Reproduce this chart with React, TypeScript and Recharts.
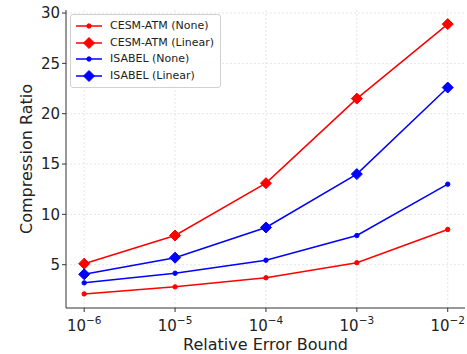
import { LineChart, Line, XAxis, YAxis, CartesianGrid } from 'recharts'

const errorBounds = [1e-6, 1e-5, 1e-4, 1e-3, 1e-2]
const cesmNone = [2.1, 2.8, 3.7, 5.2, 8.5]
const cesmLinear = [5.1, 7.9, 13.1, 21.5, 28.9]
const isabelNone = [3.2, 4.15, 5.45, 7.9, 13.0]
const isabelLinear = [4.05, 5.7, 8.7, 14.0, 22.6]
const yTicks = [5, 10, 15, 20, 25, 30]
const xTicks = [1e-6, 1e-5, 1e-4, 1e-3, 1e-2]

const seriesInfo = [
    { key: 'cesmNone', name: 'CESM-ATM (None)', color: '#ff0000', marker: 'dot' },
    { key: 'cesmLinear', name: 'CESM-ATM (Linear)', color: '#ff0000', marker: 'diamond' },
    { key: 'isabelNone', name: 'ISABEL (None)', color: '#0000ff', marker: 'dot' },
    { key: 'isabelLinear', name: 'ISABEL (Linear)', color: '#0000ff', marker: 'diamond' },
]

const data = errorBounds.map((eb, i) => ({
    eb,
    cesmNone: cesmNone[i],
    cesmLinear: cesmLinear[i],
    isabelNone: isabelNone[i],
    isabelLinear: isabelLinear[i],
}))

const font = '"DejaVu Sans", sans-serif'
const xDomain = [Math.pow(10, -6.2), Math.pow(10, -1.81)]

const Marker = ({ cx, cy, color, marker }: any) => {
    if (cx == null || cy == null) return null
    if (marker === 'diamond') {
        const s = 5.5
        return <polygon points={`${cx},${cy - s} ${cx + s},${cy} ${cx},${cy + s} ${cx - s},${cy}`} fill={color} stroke={color} />
    }
    return <circle cx={cx} cy={cy} r={2.2} fill={color} stroke={color} />
}

const XTick = ({ x, y, payload }: any) => {
    const exp = Math.round(Math.log10(payload.value))
    return (
        <text x={x} y={y + 17} textAnchor="middle" fontFamily={font} fontSize={15} fill="#222">
            10<tspan dy={-7} fontSize={10.5}>{'\u2212' + Math.abs(exp)}</tspan>
        </text>
    )
}

const LegendBox = () => (
    <div style={{
        position: 'absolute', left: 70, top: 14,
        border: '1px solid #d0d0d0', borderRadius: 3, background: 'rgba(255,255,255,0.85)',
        padding: '3px 6px 3px 4px', fontFamily: font, fontSize: 11, color: '#222', lineHeight: '16.5px'
    }}>
        {seriesInfo.map(s => (
            <div key={s.key} style={{ display: 'flex', alignItems: 'center' }}>
                <svg width={28} height={14} style={{ marginRight: 7 }}>
                    <line x1={1} y1={7} x2={27} y2={7} stroke={s.color} strokeWidth={1.5} />
                    <Marker cx={14} cy={7} color={s.color} marker={s.marker} />
                </svg>
                {s.name}
            </div>
        ))}
    </div>
)

export default function App() {
    return (
        <div style={{ position: 'absolute', left: 0, top: 0, width: 467, height: 354, background: '#fff' }}>
            <LineChart width={467} height={354} data={data} margin={{ top: 10, right: 2, bottom: 0, left: 0 }}>
                <CartesianGrid stroke="#d4d4d4" strokeDasharray="2 2" strokeWidth={0.6} verticalValues={xTicks} horizontalValues={yTicks} />
                <XAxis
                    dataKey="eb"
                    type="number"
                    scale="log"
                    domain={xDomain}
                    ticks={xTicks}
                    interval={0}
                    allowDataOverflow
                    height={46}
                    tick={<XTick />}
                    tickSize={4}
                    stroke="#333"
                    label={{ value: 'Relative Error Bound', position: 'insideBottom', offset: 4, fontFamily: font, fontSize: 16, fill: '#222' }}
                />
                <XAxis xAxisId="top" orientation="top" dataKey="eb" type="number" scale="log"
                    domain={xDomain} allowDataOverflow tick={false} height={0} stroke="#333" />
                <YAxis
                    type="number"
                    domain={[0.7, 30.3]}
                    ticks={yTicks}
                    interval={0}
                    allowDataOverflow
                    width={66}
                    tickSize={4}
                    stroke="#333"
                    tick={{ fontFamily: font, fontSize: 15, fill: '#222' }}
                    label={{ value: 'Compression Ratio', angle: -90, position: 'insideLeft', offset: 26, style: { textAnchor: 'middle' }, fontFamily: font, fontSize: 16, fill: '#222' }}
                />
                <YAxis yAxisId="right" orientation="right" domain={[0.7, 30.3]} tick={false} width={0} stroke="#333" />
                {seriesInfo.map(s => (
                    <Line
                        key={s.key}
                        dataKey={s.key}
                        name={s.name}
                        type="linear"
                        stroke={s.color}
                        strokeWidth={1.5}
                        dot={<Marker color={s.color} marker={s.marker} />}
                        activeDot={false}
                        isAnimationActive={false}
                    />
                ))}
            </LineChart>
            <LegendBox />
        </div>
    )
}
